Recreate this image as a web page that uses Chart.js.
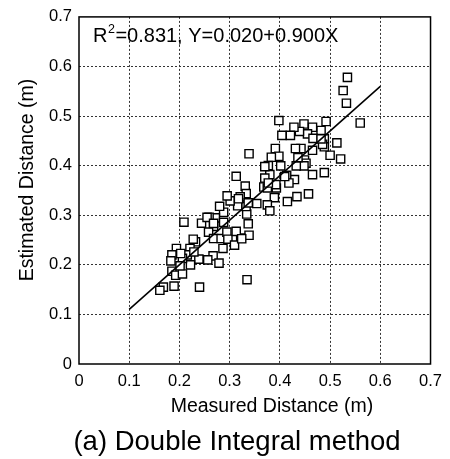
<!DOCTYPE html>
<html><head><meta charset="utf-8">
<script src="https://cdn.jsdelivr.net/npm/chart.js@4.4.0/dist/chart.umd.min.js"></script>
<style>html,body{margin:0;padding:0;background:#fff;}#wrap{width:450px;height:459px;position:relative;}</style>
</head><body><div id="wrap"><canvas id="c"></canvas></div>
<script>
// Measured (x) and estimated (y) distances
const measured = [0.5345,0.526,0.5325,0.560,0.5135,0.521,0.500,0.4885,0.492,0.482,0.4885,0.4885,0.465,0.465,0.457,0.448,0.465,0.455,0.439,0.428,0.421,0.404,0.398,0.391,0.442,0.431,0.449,0.452,0.448,0.4326,0.429,0.434,0.415,0.4135,0.418,0.4017,0.398,0.383,0.377,0.380,0.370,0.368,0.375,0.393,0.389,0.375,0.380,0.354,0.3386,0.331,0.333,0.321,0.316,0.334,0.337,0.3386,0.322,0.313,0.301,0.295,0.288,0.280,0.2715,0.268,0.259,0.244,0.258,0.268,0.283,0.2945,0.2965,0.313,0.3097,0.2867,0.267,0.2564,0.2788,0.2387,0.232,0.2275,0.221,0.2156,0.222,0.206,0.209,0.194,0.185,0.183,0.185,0.1926,0.206,0.2012,0.1893,0.168,0.161,0.240,0.3346,0.324,0.3327,0.2026,0.2288,0.3176,0.337,0.255,0.268,0.288,0.370,0.392,0.4096,0.377,0.436,0.466,0.485,0.482];
const estimated = [0.578,0.5515,0.526,0.486,0.446,0.4135,0.421,0.386,0.489,0.471,0.454,0.438,0.431,0.382,0.343,0.484,0.4775,0.464,0.469,0.4775,0.461,0.461,0.491,0.4346,0.4346,0.4346,0.4115,0.405,0.3996,0.3996,0.372,0.3375,0.3276,0.3805,0.365,0.3996,0.419,0.417,0.400,0.382,0.375,0.357,0.355,0.355,0.3355,0.321,0.309,0.3236,0.424,0.3587,0.3435,0.337,0.319,0.3025,0.2827,0.2596,0.254,0.3785,0.329,0.339,0.306,0.318,0.2946,0.2774,0.296,0.284,0.266,0.253,0.253,0.266,0.2517,0.2675,0.2398,0.233,0.218,0.210,0.2034,0.2114,0.2464,0.2517,0.233,0.220,0.200,0.213,0.286,0.233,0.220,0.208,0.187,0.179,0.1816,0.198,0.157,0.155,0.1486,0.155,0.170,0.2526,0.3175,0.2228,0.226,0.3333,0.325,0.2956,0.2837,0.2857,0.398,0.3617,0.378,0.365,0.416,0.455,0.443,0.454];
// Fitted line end points (Y=0.020+0.900X, drawn from X=0.1 to X=0.6)
const fitX = [0.1, 0.6];
const fitY = [0.11, 0.56];
// Axis ticks
const xTickValues = [0,0.1,0.2,0.3,0.4,0.5,0.6,0.7];
const xTickLabels = ['0','0.1','0.2','0.3','0.4','0.5','0.6','0.7'];
const yTickValues = [0,0.1,0.2,0.3,0.4,0.5,0.6,0.7];
const yTickLabels = ['0','0.1','0.2','0.3','0.4','0.5','0.6','0.7'];
// Texts
const xTitle = 'Measured Distance (m)';
const yTitle = 'Estimated Distance (m)';
const figTitle = '(a) Double Integral method';
const annR2 = '0.831';
const annEq = 'Y=0.020+0.900X';

const FONT = '"Liberation Sans", Arial, Helvetica, sans-serif';
const pts = measured.map((x,i)=>({x:x, y:estimated[i]}));
const fit = fitX.map((x,i)=>({x:x, y:fitY[i]}));

const textPlugin = {
  id: 'texts',
  afterDraw(chart) {
    const ctx = chart.ctx, a = chart.chartArea;
    ctx.save();
    // frame
    ctx.strokeStyle = '#000'; ctx.lineWidth = 1.5;
    ctx.strokeRect(a.left, a.top, a.right - a.left, a.bottom - a.top);
    ctx.fillStyle = '#000';
    ctx.textBaseline = 'alphabetic';
    // annotation
    ctx.textAlign = 'left';
    let x = 93;
    ctx.font = '20px ' + FONT;
    ctx.fillText('R', x, 42); x += ctx.measureText('R').width + 0.5;
    ctx.font = '12.5px ' + FONT;
    ctx.fillText('2', x, 33); x += ctx.measureText('2').width + 0.5;
    ctx.font = '20px ' + FONT;
    ctx.fillText('=' + annR2 + ', ' + annEq, x, 42);
    // x title
    ctx.textAlign = 'center';
    ctx.font = '19.5px ' + FONT;
    ctx.fillText(xTitle, 272, 412);
    // y title
    ctx.save();
    ctx.translate(33, 180);
    ctx.rotate(-Math.PI/2);
    ctx.fillText(yTitle, 0, 0);
    ctx.restore();
    // figure title
    ctx.font = '27.5px ' + FONT;
    ctx.fillText(figTitle, 237, 450);
    ctx.restore();
  }
};

function gridColor(ctx) {
  const v = ctx.tick ? ctx.tick.value : null;
  if (v === null) return 'transparent';
  if (Math.abs(v) < 1e-9 || Math.abs(v - 0.7) < 1e-9) return 'transparent';
  return '#333';
}

new Chart(document.getElementById('c'), {
  type: 'scatter',
  data: {
    datasets: [
      { data: fit, showLine: true, pointRadius: 0, borderColor: '#000', borderWidth: 1.6, fill: false },
      { data: pts, pointStyle: 'rect', pointRadius: 5.8, backgroundColor: '#fff', borderColor: '#000', borderWidth: 1.4 }
    ]
  },
  options: {
    responsive: true, maintainAspectRatio: false, animation: false, devicePixelRatio: 1,
    layout: { padding: { left: 0, top: 11, right: 16, bottom: 65 } },
    plugins: { legend: { display: false }, tooltip: { enabled: false } },
    scales: {
      x: {
        type: 'linear', min: 0, max: 0.7,
        afterBuildTicks: s => { s.ticks = xTickValues.map(v => ({ value: v })); },
        afterFit: s => { s.height = 30; },
        ticks: { callback: (v, i) => xTickLabels[i], font: { family: FONT, size: 16.5 }, color: '#000', padding: 8, maxRotation: 0, autoSkip: false },
        grid: { drawTicks: false, color: gridColor, lineWidth: 1 },
        border: { display: false, dash: [2, 2] }
      },
      y: {
        type: 'linear', min: 0, max: 0.7,
        afterBuildTicks: s => { s.ticks = yTickValues.map(v => ({ value: v })); },
        afterFit: s => { s.width = 79; },
        ticks: { callback: (v, i) => yTickLabels[i], font: { family: FONT, size: 16.5 }, color: '#000', padding: 7, autoSkip: false },
        grid: { drawTicks: false, color: gridColor, lineWidth: 1 },
        border: { display: false, dash: [2, 2] }
      }
    }
  },
  plugins: [textPlugin]
});
</script>
</body></html>
